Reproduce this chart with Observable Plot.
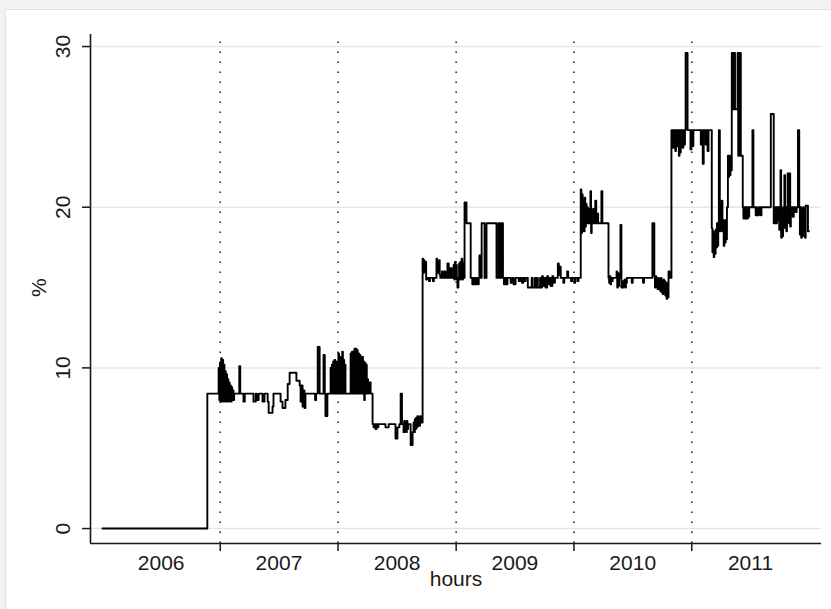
<!DOCTYPE html>
<html>
<head>
<meta charset="utf-8">
<script src="https://cdn.jsdelivr.net/npm/d3@7"></script>
<script src="https://cdn.jsdelivr.net/npm/@observablehq/plot@0.6"></script>
<style>
  html, body { margin: 0; padding: 0; }
  body { width: 831px; height: 609px; background: #f2f2f2; position: relative; overflow: hidden; }
  #panel { position: absolute; left: 5px; top: 9px; right: 0; bottom: 0; background: #fff; border-left: 1px solid #e2e2e2; border-top: 1px solid #e2e2e2; }
  #chart { position: absolute; left: 0; top: 0; }
  #chart svg { overflow: visible; }
</style>
</head>
<body>
<div id="panel"></div>
<div id="chart"></div>
<script>
// ---- data: [days since 2006-01-01, percent] ----
const seriesStart = "2006-01-01";
const xDomain = ["2005-11-25", "2012-02-07"];
const yDomain = [-0.93, 30.75];
const yTicks = [0, 10, 20, 30];
const yearStarts = [2007, 2008, 2009, 2010, 2011];
const yearLabels = ["2006", "2007", "2008", "2009", "2010", "2011"];
const xTitle = "hours";
const yTitle = "%";

const seg2006 = [[0,0],[325,8.4],[360,10.0],[362,8.0],[364,10.3]];
const seg2007 = [[366,7.9],[368,10.6],[370,8.0],[372,10.5],[374,7.9],[376,10.2],[378,8.0],[380,9.8],[382,7.9],[384,9.6],[386,8.0],[388,9.3],[390,7.9],[392,9.1],[394,8.0],[396,8.9],[398,7.9],[400,8.8],[402,8.0],[404,8.6],[406,8.0],[408,8.4],
  [424,10.1],[427,8.4],[437,7.9],[441,8.4],[468,7.9],[475,8.4],[478,8.0],[484,8.4],[496,7.9],[502,8.4],
  [512,7.9],[515,7.2],[527,7.6],[530,8.4],[552,7.9],[558,7.5],[567,8.0],[574,9.0],[580,9.7],[601,9.2],[611,8.9],
  [614,7.9],[617,8.9],[620,7.6],[623,8.6],[626,7.5],[629,8.4],[659,8.0],[662,8.4],[667,11.3],[673,8.4],
  [685,10.8],[689,8.4],[691,7.0],[697,8.4],
  [707,10.0],[709,8.4],[711,10.2],[713,8.4],[715,10.4],[717,8.4],[719,10.5],[721,8.4],[723,10.4],[725,8.4],[727,10.1],[729,8.4]];
const seg2008 = [[731,10.9],[733,8.4],[735,10.7],[737,8.4],[739,10.6],[741,8.4],[743,11.0],[745,8.4],[747,10.5],[749,8.4],[751,10.2],[753,8.4],
  [769,10.9],[771,8.4],[773,11.0],[775,8.4],[777,11.0],[779,8.4],[781,11.2],[783,8.4],[785,11.2],[787,8.4],[789,11.1],[791,8.4],[793,10.9],[795,8.4],[797,10.8],[799,8.4],[801,10.6],[803,8.4],[805,10.7],[807,8.4],[809,10.4],[811,8.0],[813,10.3],[815,8.4],[817,10.2],[819,8.4],[821,9.3],[823,8.4],
  [826,9.1],[831,8.4],[837,6.5],[840,6.3],[842,6.5],[846,6.2],[849,6.5],[852,6.3],[855,6.5],[877,6.3],[887,6.5],
  [908,5.6],[914,6.3],[920,6.5],[924,8.4],[928,6.5],
  [933,6.0],[935,6.7],[937,6.1],[939,6.6],[941,6.0],[943,6.7],[945,6.2],[947,6.5],[955,5.2],[961,6.0],
  [964,6.6],[966,6.0],[968,6.8],[970,6.2],[972,6.9],[974,6.3],[976,7.0],[978,6.4],[980,6.8],[982,6.4],[984,7.0],[986,6.6],
  [992,16.8],[994,15.9],[996,16.7],[998,16.0],[1000,16.6],[1003,15.5],[1006,15.6],[1012,15.4],[1015,15.6],[1024,15.4],[1027,15.6],
  [1035,16.8],[1037,15.9],[1039,16.6],[1041,16.0],[1043,16.7],[1045,15.8],[1047,15.6],[1052,16.0],[1056,15.6],[1060,16.0],[1063,15.6],
  [1069,16.5],[1073,15.6],[1078,16.2],[1082,15.6],[1088,16.4],[1090,15.5],[1092,16.6],[1094,15.6]];
const seg2009 = [[1096,16.4],[1098,15.5],[1100,15.0],[1103,15.6],[1105,16.5],[1107,15.5],[1109,16.6],[1111,15.6],[1113,16.8],[1115,15.5],[1117,16.5],[1119,15.6],
  [1122,20.3],[1128,19.0],[1141,15.6],[1146,15.2],[1150,15.6],[1154,15.2],[1158,15.6],[1163,15.2],[1166,15.6],[1168,17.0],[1172,15.6],
  [1175,19.0],[1184,15.6],[1190,19.0],[1221,15.6],[1227,19.0],[1229,15.6],[1231,19.0],[1233,15.6],[1235,19.0],[1237,15.6],[1239,19.0],[1241,15.6],
  [1244,15.2],[1246,15.6],[1248,15.2],[1250,15.6],[1252,15.2],[1255,15.6],[1265,15.3],[1270,15.6],[1274,15.2],[1280,15.6],
  [1290,15.4],[1294,15.6],[1300,15.3],[1304,15.6],[1308,15.4],[1311,15.6],
  [1318,15.0],[1330,15.6],[1333,15.0],[1340,15.6],[1343,15.0],[1346,15.6],[1349,15.0],[1356,15.6],[1359,15.0],[1362,15.7],[1365,15.1],[1370,15.6],[1373,15.0],[1378,15.7],[1381,15.2],[1386,15.6],[1389,15.1],[1394,15.7],[1397,15.3],[1402,15.6],
  [1411,16.5],[1414,15.8],[1417,16.3],[1420,15.6],[1428,15.3],[1431,15.6],[1440,16.0],[1443,15.6],[1452,15.4],[1455,15.6]];
const seg2010 = [[1462,15.3],[1465,15.6],[1472,15.4],[1475,15.6],
  [1482,21.1],[1484,18.4],[1486,20.8],[1488,18.6],[1490,20.4],[1492,18.5],[1494,20.6],[1496,18.8],[1498,20.2],[1500,19.0],[1502,20.0],[1504,19.0],[1506,19.9],[1509,19.0],
  [1512,21.0],[1514,18.4],[1516,19.0],[1520,19.9],[1523,19.0],[1527,20.4],[1530,19.0],[1534,19.6],[1536,19.0],[1546,21.0],[1549,19.0],
  [1568,15.6],[1570,15.3],[1572,15.7],[1574,15.2],[1576,15.6],[1578,15.4],[1581,15.6],
  [1593,16.0],[1595,15.0],[1597,15.9],[1599,15.1],[1601,15.8],[1603,15.6],
  [1605,18.9],[1608,15.0],[1610,15.4],[1612,15.0],[1614,15.4],[1616,15.1],[1618,15.5],[1620,15.0],[1622,15.3],[1625,15.6],
  [1640,15.3],[1643,15.6],[1675,15.3],[1678,15.6],[1704,19.0],[1710,15.7],
  [1712,15.0],[1714,15.7],[1716,15.1],[1718,15.6],[1720,14.9],[1722,15.6],[1724,15.0],[1726,15.5],[1728,14.8],[1730,15.6],[1732,14.7],[1734,15.4],[1736,14.6],[1738,15.5],[1740,14.8],[1742,15.4],[1744,14.5],[1746,15.3],[1748,14.3],[1750,15.2],[1752,14.4],[1754,16.0],[1757,15.6],
  [1763,24.8],[1767,23.7],[1769,24.8],[1771,24.0],[1773,24.8],[1775,23.5],[1777,24.8],[1780,23.8],[1782,24.8],[1786,23.2],[1788,24.8],[1790,23.4],[1792,24.8],
  [1798,23.7],[1800,24.8],[1803,23.9],[1805,24.8],[1807,29.6],[1813,24.8],[1822,23.6],[1825,24.8]];
const seg2011 = [[1828,23.8],[1831,24.8],[1854,23.9],[1857,24.8],[1860,22.7],[1863,24.8],[1869,23.9],[1872,24.8],[1875,23.5],[1878,24.8],
  [1888,18.7],[1890,17.2],[1892,18.5],[1894,16.9],[1896,18.3],[1898,17.1],[1900,18.6],[1902,17.5],[1904,19.0],[1906,17.6],[1908,18.9],
  [1910,24.8],[1913,18.5],[1915,20.1],[1917,18.6],[1919,20.4],[1921,18.5],[1923,19.2],[1925,17.6],[1927,19.0],[1929,17.8],[1931,19.2],[1933,18.0],[1935,20.0],
  [1938,23.2],[1940,21.9],[1942,23.2],[1944,22.0],[1946,23.2],[1948,22.3],
  [1950,29.6],[1952,26.1],[1954,29.6],[1956,26.1],[1958,29.6],[1960,26.1],
  [1968,29.6],[1970,23.2],[1972,29.6],[1974,23.2],[1976,29.6],[1978,23.2],
  [1984,20.0],[1986,19.3],[1988,20.0],[1990,19.3],[1992,20.0],[1994,19.3],[1996,20.0],[1998,19.3],[2000,20.0],[2002,19.4],[2004,20.0],
  [2014,24.8],[2017,20.0],[2024,19.5],[2026,20.0],[2028,19.5],[2030,19.9],[2032,19.5],[2034,20.0],[2036,19.6],[2038,20.0],[2040,19.5],[2042,20.0],
  [2071,25.8],[2080,19.0],[2082,20.0],[2084,19.0],[2086,20.0],[2088,19.0],[2090,20.0],[2093,19.2],[2095,20.0],
  [2097,18.6],[2099,20.0],[2101,22.3],[2103,18.1],[2105,19.5],[2107,18.2],[2109,20.0],[2111,18.7],[2113,22.0],[2115,18.9],[2117,20.0],[2119,18.5],[2121,19.8],[2123,22.1],[2127,19.0],[2129,22.1],[2131,18.8],[2133,20.0],
  [2139,19.4],[2142,20.0],[2148,19.7],[2151,20.0],[2155,24.8],[2159,20.0],
  [2161,18.3],[2163,20.0],[2165,18.1],[2167,19.8],[2169,18.2],[2171,20.0],[2173,18.4],[2175,19.5],[2177,18.1],[2179,20.1],
  [2186,18.5],[2189,18.5]];

// ---- build ----
const origin = new Date(seriesStart + "T00:00:00Z");
const toDate = d => d3.utcDay.offset(origin, d);
const points = d3.sort(
  [seg2006, seg2007, seg2008, seg2009, seg2010, seg2011].flat().map(([d, v]) => ({date: toDate(d), pct: v})),
  p => p.date
);
const yearStartDates = yearStarts.map(y => new Date(Date.UTC(y, 0, 1)));
const labelData = yearLabels.map(t => ({date: new Date(Date.UTC(+t, 6, 2)), text: t}));
const xMin = new Date(xDomain[0] + "T00:00:00Z");
const xMax = new Date(xDomain[1] + "T00:00:00Z");
const font = '"Liberation Sans", Arial, sans-serif';
const ink = "#1a1a1a";

const chart = Plot.plot({
  width: 831,
  height: 609,
  marginLeft: 90,
  marginRight: 10,
  marginTop: 34,
  marginBottom: 66,
  style: {background: "transparent", fontFamily: font, color: ink},
  x: {type: "utc", domain: [xMin, xMax]},
  y: {domain: yDomain},
  marks: [
    Plot.ruleY(yTicks, {stroke: "#e6e6e6", strokeWidth: 1.5}),
    Plot.ruleX(yearStartDates, {stroke: "#222", strokeWidth: 1.6, strokeDasharray: "1.6 8.4", strokeDashoffset: 2.5}),
    Plot.line(points, {x: "date", y: "pct", curve: "step-after", stroke: "#000", strokeWidth: 1.9}),
    Plot.ruleX([xMin], {stroke: ink, strokeWidth: 1.6}),
    Plot.ruleY([yDomain[0]], {stroke: ink, strokeWidth: 1.6}),
    Plot.axisY(yTicks, {tickSize: 8, tickFormat: () => "", stroke: ink, strokeWidth: 1.5, label: null}),
    Plot.axisX(yearStartDates, {tickSize: 8, tickFormat: () => "", stroke: ink, strokeWidth: 1.5, label: null}),
    Plot.text(yTicks, {x: xMin, y: d => d, text: d => String(d), rotate: -90, dx: -21, lineAnchor: "bottom", fontSize: 21, fill: ink}),
    Plot.text(labelData, {x: "date", y: yDomain[0], text: "text", dy: 26, lineAnchor: "bottom", fontSize: 21, fill: ink}),
    Plot.text([xTitle], {frameAnchor: "bottom", dy: 42, lineAnchor: "bottom", fontSize: 21, fill: ink}),
    Plot.text([yTitle], {frameAnchor: "left", dx: -45, dy: 8, rotate: -90, lineAnchor: "bottom", fontSize: 21, fill: ink})
  ]
});
document.getElementById("chart").appendChild(chart);
</script>
</body>
</html>
